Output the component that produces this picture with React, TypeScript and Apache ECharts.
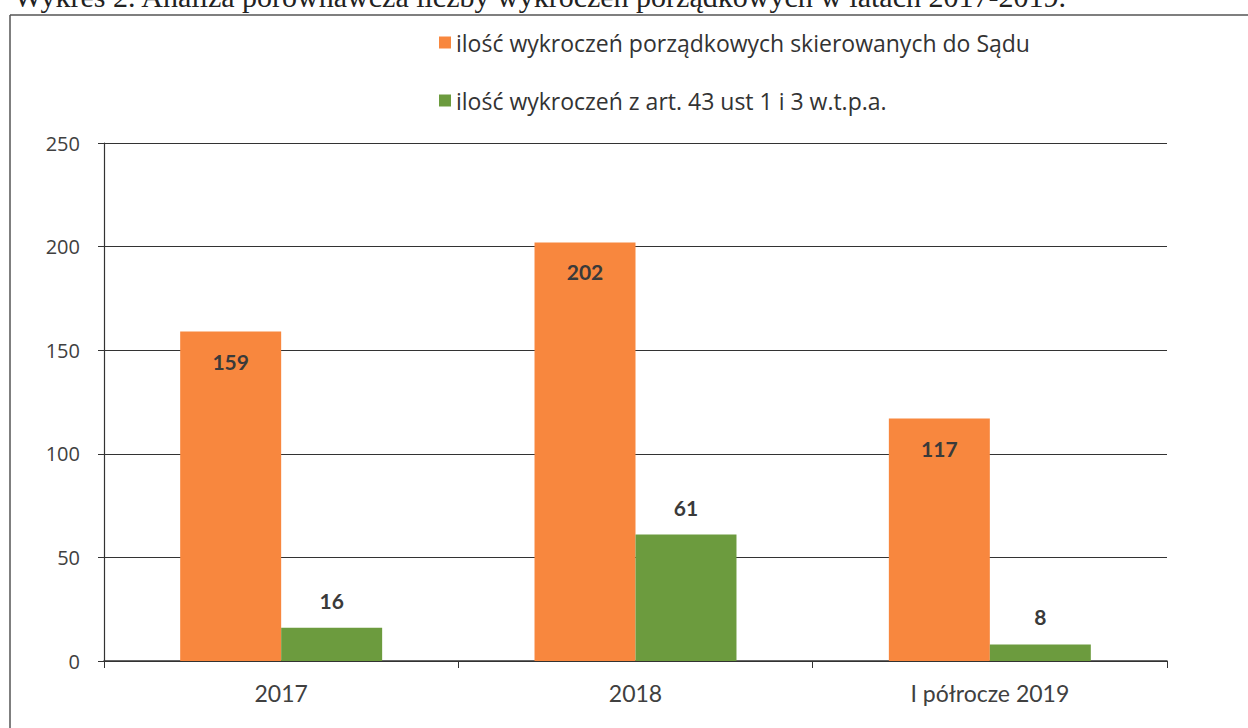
import React, { useEffect, useRef } from "react";
import * as echarts from "echarts";

const categories = ["2017", "2018", "I półrocze 2019"];
const seriesNames = [
  "ilość wykroczeń porządkowych skierowanych do Sądu",
  "ilość wykroczeń z art. 43 ust 1 i 3 w.t.p.a.",
];
const courtValues = [159, 202, 117];
const artValues = [16, 61, 8];
const yTicks = { min: 0, max: 250, interval: 50 };
const titleText =
  "Wykres 2. Analiza porównawcza liczby wykroczeń porządkowych w latach 2017-2019.";

const FONT = "Lato, 'Open Sans', sans-serif";

export default function App() {
  const ref = useRef<HTMLDivElement>(null);
  useEffect(() => {
    document.body.style.margin = "0";
    if (!ref.current) return;
    const chart = echarts.init(ref.current, undefined, { renderer: "svg" });
    chart.setOption({
      animation: false,
      backgroundColor: "#ffffff",
      textStyle: { fontFamily: FONT },
      graphic: [
        {
          type: "text",
          left: 14,
          top: -19,
          style: {
            text: titleText,
            font: "30px 'Liberation Serif', 'DejaVu Serif', serif",
            fill: "#222",
          },
        },
        {
          type: "line",
          shape: { x1: 10, y1: 15, x2: 1248, y2: 15 },
          style: { stroke: "#555", lineWidth: 1.5 },
        },
        {
          type: "line",
          shape: { x1: 10, y1: 15, x2: 10, y2: 728 },
          style: { stroke: "#555", lineWidth: 1.5 },
        },
      ],
      legend: {
        orient: "vertical",
        left: 434,
        top: 26,
        itemWidth: 12,
        itemHeight: 12,
        itemGap: 35,
        icon: "rect",
        textStyle: { fontSize: 23, color: "#333", fontFamily: "'Open Sans', sans-serif" },
        data: seriesNames,
      },
      grid: { left: 104, right: 81, top: 143, bottom: 67 },
      xAxis: {
        type: "category",
        data: categories,
        axisLine: { lineStyle: { color: "#333", width: 1.5 } },
        axisTick: { show: true, length: 7, lineStyle: { color: "#333" } },
        axisLabel: { fontSize: 23, color: "#404040", margin: 20 },
      },
      yAxis: {
        type: "value",
        min: yTicks.min,
        max: yTicks.max,
        interval: yTicks.interval,
        axisLine: { show: true, lineStyle: { color: "#333", width: 1.2 } },
        axisTick: { show: true, length: 6, lineStyle: { color: "#333" } },
        axisLabel: { fontSize: 20, color: "#404040", margin: 24, fontFamily: "'Open Sans', sans-serif" },
        splitLine: { lineStyle: { color: "#333", width: 1.2 } },
      },
      series: [
        {
          name: seriesNames[0],
          type: "bar",
          data: courtValues,
          barGap: "0%",
          barCategoryGap: "43%",
          itemStyle: { color: "#F8873E" },
          label: {
            show: true,
            position: "insideTop",
            distance: 19,
            fontSize: 21,
            fontWeight: "bold",
            color: "#3a3a3a",
            fontFamily: FONT,
          },
        },
        {
          name: seriesNames[1],
          type: "bar",
          data: artValues,
          itemStyle: { color: "#6C9B3E" },
          label: {
            show: true,
            position: "top",
            distance: 17,
            fontSize: 21,
            fontWeight: "bold",
            color: "#3a3a3a",
            fontFamily: FONT,
          },
        },
      ],
    });
    return () => chart.dispose();
  }, []);
  return <div ref={ref} style={{ width: 1248, height: 728 }} />;
}
